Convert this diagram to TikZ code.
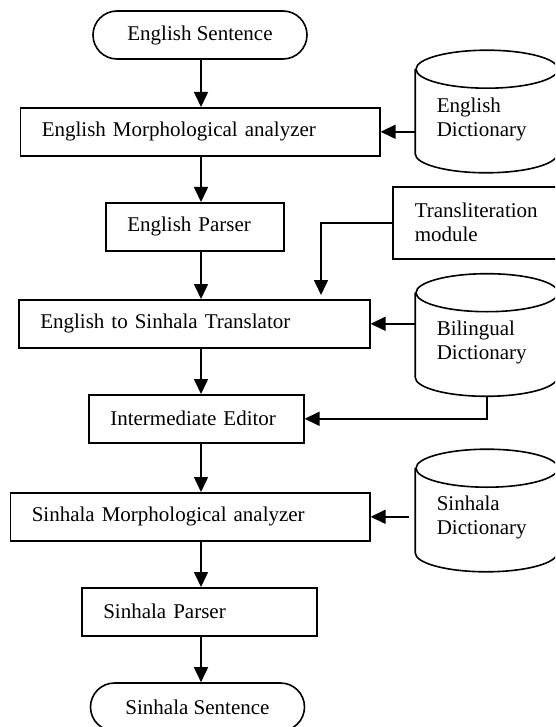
\documentclass[tikz,border=0pt]{standalone}
\usepackage{fontspec}
\setmainfont{Liberation Serif}
\usetikzlibrary{calc,arrows.meta}

\begin{document}
\begin{tikzpicture}[x=1pt,y=-1pt,line width=1.6pt,
    font=\fontsize{21}{24}\selectfont,
    proc/.style={draw,rectangle,anchor=north west,minimum height=48pt,
        inner xsep=21.5pt,inner ysep=0pt,align=left},
    term/.style={draw,rectangle,rounded corners=24pt,minimum width=214pt,
        minimum height=48pt,inner sep=0pt},
    dbase/.style={rectangle,minimum width=142pt,minimum height=121pt,inner sep=0pt},
    dtext/.style={anchor=west,align=left,inner sep=0pt},
    arr/.style={-{Triangle[length=15pt,width=14pt]}}]
    \useasboundingbox (0,0) rectangle (555,727);
    \clip (0,0) rectangle (555,727);

    % start and end
    \node[term] (es) at (200,35) {English Sentence};
    \node[term] (ss) at (197.5,707) {Sinhala Sentence};

    % processing steps
    \node[proc,text width=316.5pt] (emorph) at (19.5,107) {English Morphological analyzer};
    \node[proc,text width=135pt] (eparser) at (105,202) {English Parser};
    \node[proc,text width=308pt] (translator) at (18,299) {English to Sinhala Translator};
    \node[proc,text width=172pt] (editor) at (88,394) {Intermediate Editor};
    \node[proc,text width=316.5pt] (smorph) at (9.5,492) {Sinhala Morphological analyzer};
    \node[proc,text width=192pt] (sparser) at (81,587) {Sinhala Parser};
    \node[proc,minimum height=72pt,inner xsep=22pt,text width=124pt] (translit) at (392,186)
        {Transliteration\\module};

    % dictionaries
    \node[dbase] (edict) at (487,111.5) {};
    \node[dtext] (edicttxt) at (436,119) {English\\Dictionary};
    \node[dbase] (bdict) at (487,335) {};
    \node[dtext] (bdicttxt) at (436,342) {Bilingual\\Dictionary};
    \node[dbase] (sdict) at (487,510.5) {};
    \node[dtext] (sdicttxt) at (436,517) {Sinhala\\Dictionary};
    \foreach \d in {edict,bdict,sdict} {
        \draw ($(\d.north west)+(0,19)$) -- ($(\d.south west)+(0,-19)$)
            arc (180:0:71 and 19) -- ($(\d.north east)+(0,19)$);
        \draw ($(\d.north)+(0,19)$) ellipse (71 and 19);
    }

    % main column
    \coordinate (col) at (201,0);
    \draw[arr] (col |- es.south) -- (col |- emorph.north);
    \draw[arr] (col |- emorph.south) -- (col |- eparser.north);
    \draw[arr] (col |- eparser.south) -- (col |- translator.north);
    \draw[arr] (col |- translator.south) -- (col |- editor.north);
    \draw[arr] (col |- editor.south) -- (col |- smorph.north);
    \draw[arr] (col |- smorph.south) -- (col |- sparser.north);
    \draw[arr] (col |- sparser.south) -- (col |- ss.north);

    % side inputs
    \draw[arr] (edict.west |- emorph.east) -- (emorph.east);
    \coordinate (tdrop) at (321,295);
    \draw[arr] (translit.west) -| (tdrop);
    \draw[arr] (bdict.west |- translator.east) -- (translator.east);
    \draw[arr] (bdict.south) |- (editor.east);
    \draw[arr] ([xshift=-6pt]sdict.west |- smorph.east) -- (smorph.east);
\end{tikzpicture}
\end{document}
